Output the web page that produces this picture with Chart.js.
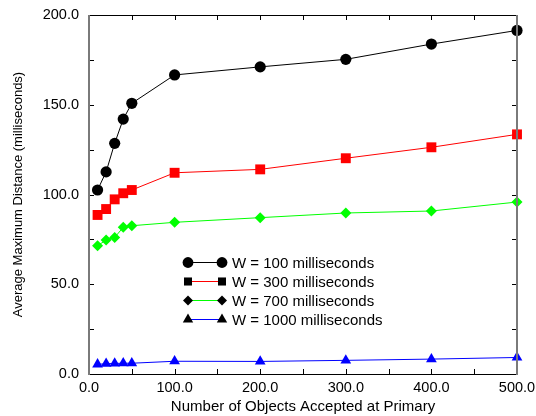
<!DOCTYPE html>
<html>
<head>
<meta charset="utf-8">
<script src="https://cdn.jsdelivr.net/npm/chart.js@4/dist/chart.umd.min.js"></script>
<style>
  html, body { margin: 0; padding: 0; background: #fff; }
  #wrap { width: 536px; height: 416px; }
</style>
</head>
<body>
<div id="wrap"><canvas id="chart" width="536" height="416"></canvas></div>
<script>
var objects = [10, 20, 30, 40, 50, 100, 200, 300, 400, 500];
var w100 = [102.5, 112.6, 128.5, 142.0, 150.8, 166.6, 171.1, 175.3, 183.8, 191.4];
var w300 = [88.6, 91.9, 97.3, 100.7, 102.5, 112.1, 114.0, 120.2, 126.3, 133.5];
var w700 = [71.5, 74.6, 76.1, 81.7, 82.6, 84.5, 87.1, 89.7, 90.8, 95.8];
var w1000 = [5.4, 5.7, 5.9, 6.0, 6.0, 7.1, 7.0, 7.6, 8.3, 9.2];
var seriesNames = ['W = 100 milliseconds', 'W = 300 milliseconds', 'W = 700 milliseconds', 'W = 1000 milliseconds'];

function pts(ys) {
  return objects.map(function (x, i) { return { x: x, y: ys[i] }; });
}

function ds(label, ys, color, shape, radius, legendRadius) {
  return {
    label: label,
    data: pts(ys),
    borderColor: color,
    backgroundColor: color,
    borderWidth: 1,
    pointStyle: shape,
    pointRadius: radius,
    pointBorderWidth: 0,
    pointBackgroundColor: color,
    legendRadius: legendRadius,
    clip: false,
    tension: 0
  };
}

var fontFamily = '"Liberation Sans", Arial, sans-serif';

var framePlugin = {
  id: 'frame',
  afterDraw: function (chart) {
    var ctx = chart.ctx;
    var a = chart.chartArea;
    var xs = chart.scales.x, ys = chart.scales.y;
    ctx.save();
    // inward ticks
    ctx.strokeStyle = '#000';
    ctx.lineWidth = 1;
    ctx.beginPath();
    for (var v = 50; v < 500; v += 50) {
      var px = Math.round(xs.getPixelForValue(v)) + 0.5;
      ctx.moveTo(px, a.bottom); ctx.lineTo(px, a.bottom - 5);
      ctx.moveTo(px, a.top); ctx.lineTo(px, a.top + 5);
    }
    for (var u = 25; u < 200; u += 25) {
      var py = Math.round(ys.getPixelForValue(u)) + 0.5;
      ctx.moveTo(a.left, py); ctx.lineTo(a.left + 5, py);
      ctx.moveTo(a.right, py); ctx.lineTo(a.right - 5, py);
    }
    ctx.stroke();
    // frame
    ctx.lineWidth = 1.2;
    ctx.strokeStyle = '#000';
    ctx.beginPath();
    ctx.moveTo(a.left, a.top + 0.5); ctx.lineTo(a.right, a.top + 0.5);
    ctx.moveTo(a.left, a.bottom + 0.5); ctx.lineTo(a.right, a.bottom + 0.5);
    ctx.stroke();
    ctx.lineWidth = 2;
    ctx.strokeStyle = '#7a7a7a';
    ctx.beginPath();
    ctx.moveTo(a.left, a.top); ctx.lineTo(a.left, a.bottom + 1);
    ctx.moveTo(a.right, a.top); ctx.lineTo(a.right, a.bottom + 1);
    ctx.stroke();

    // legend: marker - line - marker, then label
    ctx.font = '15px ' + fontFamily;
    ctx.textBaseline = 'middle';
    ctx.textAlign = 'left';
    var x0 = 188, x1 = 222, y0 = 262.5, dy = 19;
    chart.data.datasets.forEach(function (d, i) {
      var y = y0 + i * dy;
      ctx.strokeStyle = d.borderColor;
      ctx.lineWidth = 1;
      ctx.beginPath();
      ctx.moveTo(x0, y); ctx.lineTo(x1, y);
      ctx.stroke();
      var opt = { pointStyle: d.pointStyle, radius: d.legendRadius, borderWidth: 0, rotation: 0 };
      ctx.fillStyle = '#000';
      ctx.strokeStyle = '#000';
      Chart.helpers.drawPoint(ctx, opt, x0, y);
      Chart.helpers.drawPoint(ctx, opt, x1, y);
      ctx.fillStyle = '#000';
      ctx.fillText(d.label, 232, y + 1);
    });
    ctx.restore();
  }
};

new Chart(document.getElementById('chart'), {
  type: 'line',
  data: {
    datasets: [
      ds(seriesNames[0], w100, '#000000', 'circle', 5.6, 5.4),
      ds(seriesNames[1], w300, '#ff0000', 'rect', 7, 5.7),
      ds(seriesNames[2], w700, '#00ff00', 'rectRot', 5.5, 5),
      ds(seriesNames[3], w1000, '#0000ff', 'triangle', 6.2, 6)
    ]
  },
  options: {
    responsive: false,
    animation: false,
    layout: { padding: { left: 0, right: 19, top: 15, bottom: 0 } },
    plugins: {
      legend: { display: false },
      tooltip: { enabled: false }
    },
    scales: {
      x: {
        type: 'linear',
        min: 0,
        max: 500,
        grid: { display: false, drawTicks: false },
        border: { display: false },
        afterFit: function (s) {
          s.height = 42;
          s.paddingLeft = 0;
          s.paddingRight = 0;
        },
        ticks: {
          stepSize: 100,
          padding: 5,
          color: '#000',
          font: { family: fontFamily, size: 14.5 },
          maxRotation: 0,
          callback: function (v) { return Number(v).toFixed(1); }
        },
        title: {
          display: true,
          text: 'Number of Objects Accepted at Primary',
          color: '#000',
          font: { family: fontFamily, size: 15 },
          padding: { top: 0, bottom: 0 }
        }
      },
      y: {
        min: 0,
        max: 200,
        grid: { display: false, drawTicks: false },
        border: { display: false },
        afterFit: function (s) {
          s.width = 89;
          s.paddingTop = 0;
          s.paddingBottom = 0;
        },
        ticks: {
          stepSize: 50,
          padding: 10,
          color: '#000',
          font: { family: fontFamily, size: 14.5 },
          callback: function (v) { return Number(v).toFixed(1); }
        },
        title: {
          display: true,
          text: 'Average Maximum Distance (milliseconds)',
          color: '#000',
          font: { family: fontFamily, size: 13 },
          padding: { top: 11, bottom: 0 }
        }
      }
    }
  },
  plugins: [framePlugin]
});
</script>
</body>
</html>
